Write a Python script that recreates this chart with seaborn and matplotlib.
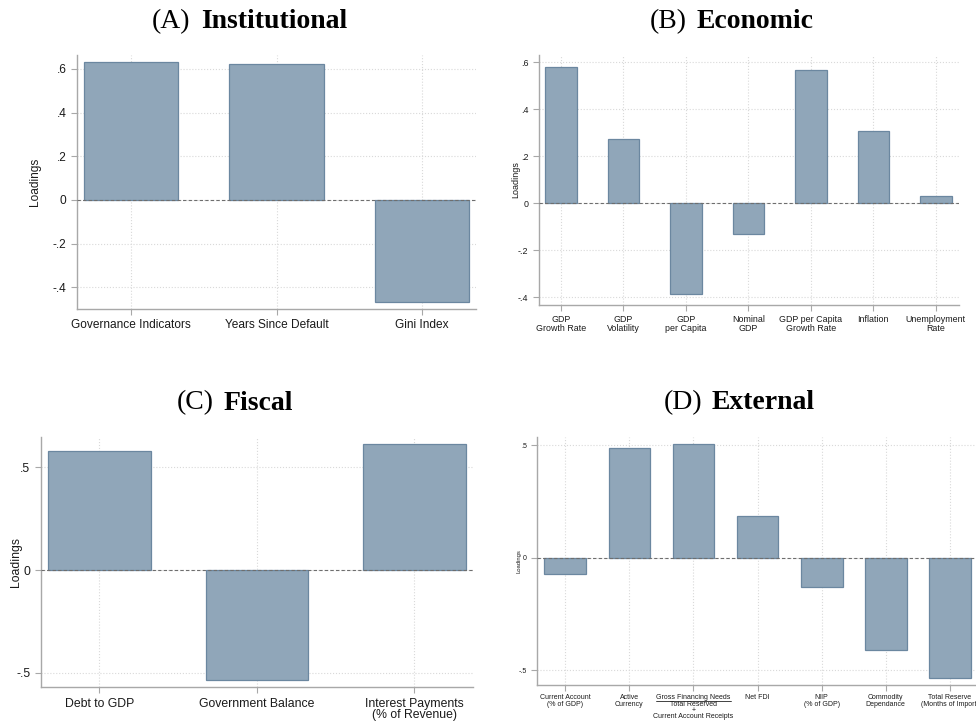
import matplotlib
matplotlib.use("Agg")
import matplotlib.pyplot as plt
import seaborn as sns
import pandas as pd
from matplotlib.lines import Line2D

# ---- factor loadings by category ----
inst_labels = ["Governance Indicators", "Years Since Default", "Gini Index"]
inst_values = [0.631, 0.623, -0.470]

econ_labels = ["GDP\nGrowth Rate", "GDP\nVolatility", "GDP\nper Capita", "Nominal\nGDP",
               "GDP per Capita\nGrowth Rate", "Inflation", "Unemployment\nRate"]
econ_values = [0.579, 0.274, -0.385, -0.129, 0.569, 0.306, 0.031]

fisc_labels = ["Debt to GDP", "Government Balance", "Interest Payments\n(% of Revenue)"]
fisc_values = [0.580, -0.536, 0.614]

ext_labels = ["Current Account\n(% of GDP)", "Active\nCurrency",
              "Gross Financing Needs\nTotal Reserved\n+\nCurrent Account Receipts",
              "Net FDI", "NIIP\n(% of GDP)", "Commodity\nDependance",
              "Total Reserve\n(Months of Import)"]
ext_values = [-0.072, 0.488, 0.507, 0.188, -0.129, -0.407, -0.532]

ticks_fine = [-0.4, -0.2, 0.0, 0.2, 0.4, 0.6]
ticks_fine_labels = ["-.4", "-.2", "0", ".2", ".4", ".6"]
ticks_coarse = [-0.5, 0.0, 0.5]
ticks_coarse_labels = ["-.5", "0", ".5"]

titles = [("(A)", "Institutional"), ("(B)", "Economic"), ("(C)", "Fiscal"), ("(D)", "External")]

FILL = "#90a6b9"
EDGE = "#6b87a0"
SPINE = "#a8a8a8"
GRID = "#d9d9d9"

sns.set_theme(style="white")
plt.rcParams["font.family"] = ["Liberation Sans", "DejaVu Sans"]

W, H = 976, 721
fig = plt.figure(figsize=(W / 100, H / 100), dpi=100)
fig.patch.set_facecolor("white")


def px_axes(left, top, right, bottom):
    return fig.add_axes([left / W, 1 - bottom / H, (right - left) / W, (bottom - top) / H])


def panel(ax, labels, values, width, xlim, ylim, yticks, yticklabels, fs, ylab_fs, ylab_x,
          spacing=0.95, pad=3.5):
    df = pd.DataFrame({"item": labels, "loading": values})
    sns.barplot(data=df, x="item", y="loading", color=FILL, saturation=1, width=width,
                edgecolor=EDGE, linewidth=0.9, ax=ax, zorder=2)
    ax.set_xlim(*xlim)
    ax.set_ylim(*ylim)
    ax.set_yticks(yticks)
    ax.set_yticklabels(yticklabels)
    ax.set_xticks(range(len(labels)))
    ax.set_xticklabels(labels, linespacing=spacing)
    ax.set_xlabel("")
    ax.set_ylabel("Loadings", fontsize=ylab_fs, color="#1a1a1a")
    ax.yaxis.set_label_coords(ylab_x, 0.5)
    ax.grid(True, axis="both", linestyle=":", color=GRID, linewidth=0.8, zorder=0)
    ax.set_axisbelow(True)
    ax.axhline(0, color="#6e6e6e", linestyle=(0, (3, 2)), linewidth=0.8, zorder=3)
    for side in ("top", "right"):
        ax.spines[side].set_visible(False)
    for side in ("left", "bottom"):
        ax.spines[side].set_color(SPINE)
        ax.spines[side].set_linewidth(1.0)
    ax.tick_params(axis="both", which="major", length=4, width=0.8, color=SPINE,
                   labelsize=fs, labelcolor="#1a1a1a", direction="out",
                   bottom=True, left=True)
    ax.tick_params(axis="x", pad=pad)


axA = px_axes(77, 55, 476, 309)
panel(axA, inst_labels, inst_values, 0.65, (-0.37, 2.37), (-0.50, 0.664),
      ticks_fine, ticks_fine_labels, 8.6, 8.6, -0.090)

axB = px_axes(539, 55, 959, 305)
panel(axB, econ_labels, econ_values, 0.5, (-0.35, 6.37), (-0.433, 0.631),
      ticks_fine, ticks_fine_labels, 6.4, 6.5, -0.045)

axC = px_axes(40.7, 437.3, 472.7, 687.3)
panel(axC, fisc_labels, fisc_values, 0.65, (-0.372, 2.37), (-0.571, 0.646),
      ticks_coarse, ticks_coarse_labels, 8.8, 8.8, -0.044)

axD = px_axes(537.3, 436.7, 980, 685.3)
panel(axD, ext_labels, ext_values, 0.65, (-0.437, 6.47), (-0.566, 0.539),
      ticks_coarse, ticks_coarse_labels, 5.0, 4.2, -0.036, spacing=0.85, pad=2.5)

# ---- panel titles: normal letter tag + bold name, centred as one line ----
renderer = fig.canvas.get_renderer()
title_spots = [(249.5, 28.5), (732.0, 28.5), (235.0, 409.5), (739.3, 409.0)]
for (tag, name), (cx, base) in zip(titles, title_spots):
    t1 = fig.text(0, 0, tag, fontsize=20, family="Liberation Serif", va="baseline",
                  color="black")
    t2 = fig.text(0, 0, name, fontsize=20, family="Liberation Serif", fontweight="bold",
                  va="baseline", color="black")
    w1 = t1.get_window_extent(renderer).width
    w2 = t2.get_window_extent(renderer).width
    gap = 10
    x0 = cx - (w1 + gap + w2) / 2
    t1.set_position((x0 / W, 1 - base / H))
    t2.set_position(((x0 + w1 + gap) / W, 1 - base / H))

# ---- fraction bar under the numerator of the financing-needs label ----
fig.canvas.draw()
renderer = fig.canvas.get_renderer()
lab = axD.get_xticklabels()[2]
bb = lab.get_window_extent(renderer)
probe = fig.text(0, 0, "Gross Financing Needs", fontsize=5.0, family="Liberation Sans")
wnum = probe.get_window_extent(renderer).width
probe.remove()
line_h = bb.height / 4.0
ybar = bb.y1 - line_h * 1.02
cxl = (bb.x0 + bb.x1) / 2
inv = fig.transFigure.inverted()
(fx0, fy), (fx1, _) = inv.transform([(cxl - wnum / 2, ybar), (cxl + wnum / 2, ybar)])
fig.add_artist(Line2D([fx0, fx1], [fy, fy], transform=fig.transFigure,
                      color="#222222", linewidth=0.6))

fig.savefig("out.png", dpi=100, facecolor="white")
